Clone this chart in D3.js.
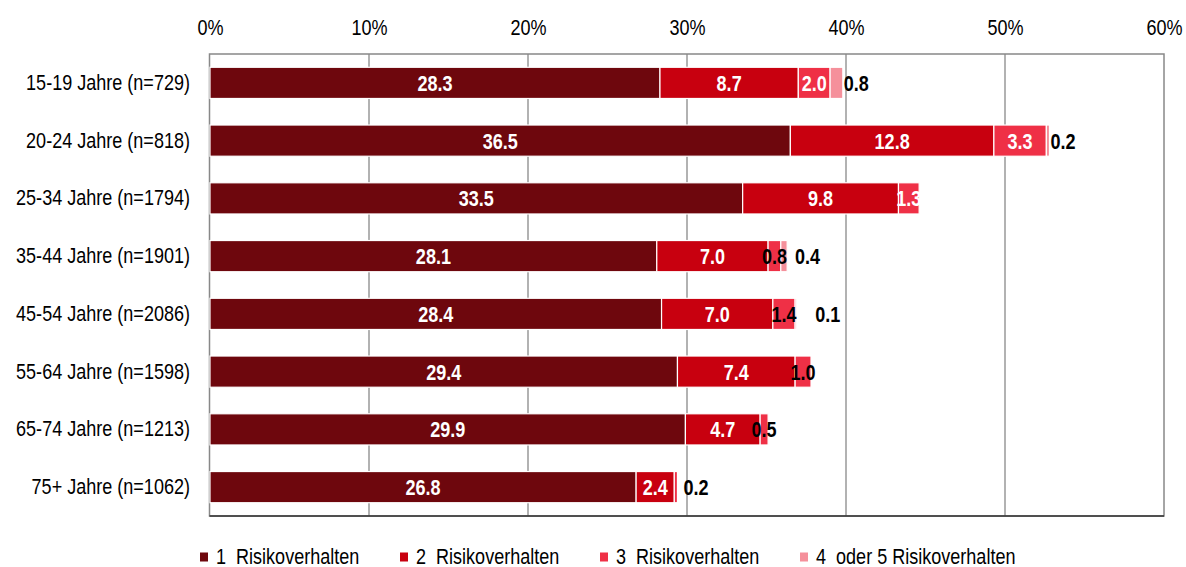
<!DOCTYPE html>
<html><head><meta charset="utf-8">
<script src="https://cdn.jsdelivr.net/npm/d3@7"></script>
<style>
body{margin:0;background:#fff;}
svg{display:block;}
text{font-family:"Liberation Sans Narrow","Arial Narrow","Liberation Sans",Arial,sans-serif;}
</style></head>
<body>
<svg id="chart" width="1186" height="567"></svg>
<script>
const categories = ["15-19 Jahre (n=729)","20-24 Jahre (n=818)","25-34 Jahre (n=1794)","35-44 Jahre (n=1901)","45-54 Jahre (n=2086)","55-64 Jahre (n=1598)","65-74 Jahre (n=1213)","75+ Jahre (n=1062)"];
const seriesNames = ["1  Risikoverhalten","2  Risikoverhalten","3  Risikoverhalten","4  oder 5 Risikoverhalten"];
const s1 = [28.3,36.5,33.5,28.1,28.4,29.4,29.9,26.8];
const s2 = [8.7,12.8,9.8,7.0,7.0,7.4,4.7,2.4];
const s3 = [2.0,3.3,1.3,0.8,1.4,1.0,0.5,0.2];
const s4 = [0.8,0.2,null,0.4,0.1,null,null,null];
const xTicks = [0,10,20,30,40,50,60];
const colors = ["#6e070d","#c8000f","#ef3046","#f5909b"];

const FS = 22, SX = 0.82; // condensed look
const svg = d3.select("#chart");
const m = {left:210, right:1164, top:54, bottom:516};
const x = d3.scaleLinear().domain([0,60]).range([m.left, m.right]);
const y = d3.scaleBand().domain(categories).range([m.top, m.bottom]).paddingInner(0.46).paddingOuter(0.23);

// gridlines
svg.append("g").selectAll("line").data(xTicks.slice(1,-1)).join("line")
  .attr("x1",d=>x(d)).attr("x2",d=>x(d)).attr("y1",m.top).attr("y2",m.bottom)
  .attr("stroke","#999").attr("stroke-width",1.5);
// plot border
svg.append("rect").attr("x",m.left-0.5).attr("y",m.top).attr("width",m.right-m.left+0.5).attr("height",m.bottom-m.top)
  .attr("fill","none").attr("stroke","#888").attr("stroke-width",1.5);
svg.append("line").attr("x1",m.left-0.5).attr("x2",m.right).attr("y1",m.bottom).attr("y2",m.bottom)
  .attr("stroke","#333").attr("stroke-width",1.5);

// top axis
const xAxis = d3.axisTop(x).tickValues(xTicks).tickFormat(d=>d+"%").tickSize(0).tickPadding(0);
const gx = svg.append("g").attr("transform",`translate(0,34.5)`).call(xAxis);
gx.select(".domain").remove();
gx.selectAll("text").attr("font-size",FS).attr("fill","#000").attr("dy",0).attr("y",0)
  .attr("transform",`scale(${SX},1)`);

// left axis labels
const yAxis = d3.axisLeft(y).tickSize(0).tickPadding(0);
const gy = svg.append("g").attr("transform",`translate(190,0)`).call(yAxis);
gy.select(".domain").remove();
gy.selectAll("text").attr("font-size",FS).attr("fill","#000").attr("x",0)
  .attr("transform",`scale(${SX},1)`);

// stacked data
const series = [s1,s2,s3,s4];
const rows = categories.map((c,i)=>{
  let acc=0; const segs=[];
  series.forEach((s,k)=>{ const v=s[i]; if(v==null) return; segs.push({k, v, x0:acc, x1:acc+v, cat:c, i}); acc+=v; });
  return segs;
});
const segData = rows.flat();

svg.append("g").selectAll("rect").data(segData).join("rect")
  .attr("x",d=>x(d.x0)).attr("y",d=>y(d.cat))
  .attr("width",d=>Math.max(0,x(d.x1)-x(d.x0))).attr("height",y.bandwidth())
  .attr("fill",d=>colors[d.k]).attr("stroke","#fff").attr("stroke-width",1.2);

// labels
const lab = svg.append("g");
rows.forEach(segs=>{
  let lastEnd = -Infinity;
  segs.forEach(d=>{
    const cx = (x(d.x0)+x(d.x1))/2;
    const cy = y(d.cat)+y.bandwidth()/2;
    let anchor="middle", px=cx, fill="#fff";
    if(d.k>=2){
      const white = d.k===2 && d.i<3;
      if(!white){
        fill="#000";
        if(d.k===3 || d.v<0.3){
          anchor="start";
          px = Math.max(x(d.x1)+ (d.k===3?1:6), lastEnd+ (d.k===3 && lastEnd>0 ? (d.i===4?18:8) : 0));
        }
      }
    }
    const t = lab.append("text").attr("x",0).attr("y",0).attr("dy","0.36em")
      .attr("transform",`translate(${px},${cy}) scale(${SX},1)`)
      .attr("text-anchor",anchor).attr("font-size",FS).attr("font-weight","bold")
      .attr("fill",fill).text(d.v.toFixed(1));
    const bb = t.node().getBBox();
    if(fill==="#000") lastEnd = px + (bb.x+bb.width)*SX; else lastEnd = -Infinity;
  });
});

// legend
const leg = svg.append("g").attr("transform","translate(200,556)");
const legStep = 200;
seriesNames.forEach((n,k)=>{
  const g = leg.append("g").attr("transform",`translate(${k*legStep},0)`);
  g.append("rect").attr("x",0).attr("y",-3.5).attr("width",8).attr("height",9).attr("fill",colors[k]);
  g.append("text").attr("x",0).attr("y",0).attr("dy","0.36em")
    .attr("transform",`translate(16,0) scale(${SX},1)`)
    .attr("font-size",FS).attr("fill","#000")
    .attr("xml:space","preserve").style("white-space","pre").text(n);
});
</script>
</body></html>
